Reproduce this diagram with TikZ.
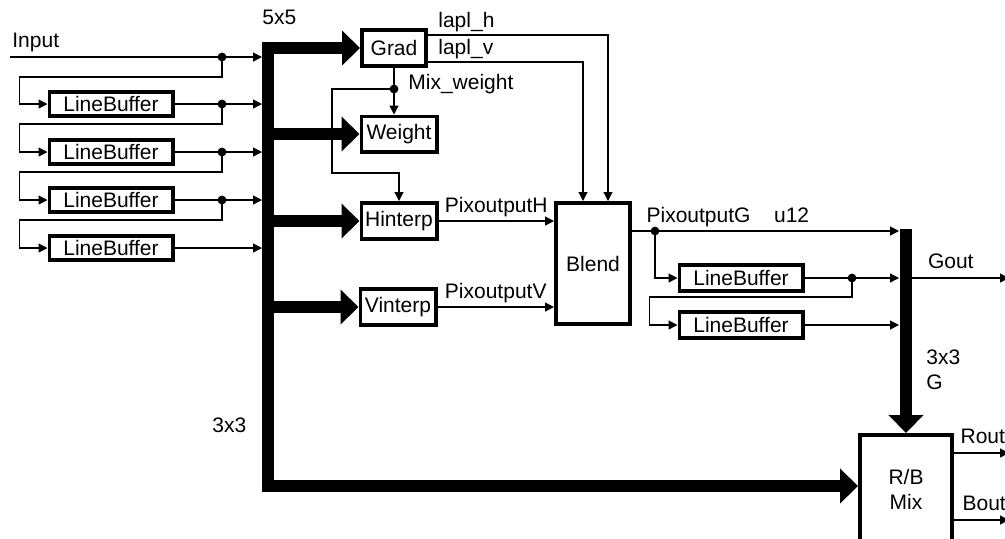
\documentclass[tikz,border=0pt]{standalone}
\usepackage{fontspec}
\setmainfont{Liberation Sans}
\usetikzlibrary{arrows.meta,positioning,calc}

\begin{document}
\begin{tikzpicture}[x=0.5pt,y=-0.5pt,font=\fontsize{10.5}{12.5}\selectfont,>={Triangle[length=4.5pt,width=4.5pt]},node distance=10pt]
  \tikzset{block/.style={draw,line width=1.8pt,fill=white,inner sep=0pt,minimum width=37.7pt,minimum height=18.2pt,align=center},
    linebuf/.style={block,minimum width=61.7pt,minimum height=12.2pt},
    wire/.style={line width=0.6pt},
    bus/.style={line width=6.4pt},
    fathead/.tip={Triangle[length=9pt,width=17pt]},
    fat/.style={-fathead},
    lbl/.style={inner sep=0pt,text depth=0pt}}
  \useasboundingbox (0,0) rectangle (1005,538);

  % processing blocks
  \node[block,minimum width=32.2pt] (grad) at (394,48) {Grad};
  \node[block,minimum height=17.7pt] (weight) at (399,134) {Weight};
  \node[block] (hinterp) at (399,221) {Hinterp};
  \node[block] (vinterp) at (398,307) {Vinterp};
  \node[block,minimum width=37.2pt,minimum height=60.7pt] (blend) at (593,263.5) {Blend};
  \node[block,minimum width=46.2pt,minimum height=54.2pt] (rbmix) at (906,489) {R/B\\Mix};

  % line buffers
  \node[linebuf] (lb1) at (111,104) {LineBuffer};
  \node[linebuf,below=of lb1] (lb2) {LineBuffer};
  \node[linebuf,below=of lb2] (lb3) {LineBuffer};
  \node[linebuf,below=of lb3] (lb4) {LineBuffer};
  \node[linebuf,minimum height=13.2pt] (lbg1) at (741,278) {LineBuffer};
  \node[linebuf,minimum height=13.2pt,below=8.5pt of lbg1] (lbg2) {LineBuffer};

  % helper coordinates
  \coordinate (in) at (10,57);
  \coordinate (busL) at (262,0);
  \coordinate (tap) at (222,0);
  \coordinate (busc) at (268,486);
  \coordinate (gbus) at (906,229);
  \coordinate (gL) at (899,0);
  \coordinate (gR) at (912,0);
  \coordinate (tapg) at (852,0);
  \coordinate (outR) at (1009,0);
  \coordinate (mw) at ([yshift=-10.5pt]grad.south);
  \coordinate (pg) at ([yshift=16.25pt]blend.east);
  \coordinate (dg) at ([xshift=11.5pt]pg);

  % input and line buffer chain
  \node[lbl,above right=4.5pt and 1pt of in] (inlbl) {Input};
  \foreach \a/\b in {in/lb1,lb1/lb2,lb2/lb3,lb3/lb4}{
    \draw[wire,->] (\a) -- (\a -| busL);
    \fill (\a -| tap) circle (2.2pt);
    \draw[wire,->] (\a -| tap) -- ++(0,20) -| ([xshift=-14pt]\b.west) -- (\b.west);
  }
  \draw[wire,->] (lb4) -- (lb4 -| busL);

  % 5x5 window bus
  \draw[bus,fathead-fathead] (grad.west) -| (busc) -- (busc -| rbmix.west);
  \foreach \n in {weight,hinterp,vinterp}
    \draw[bus,fat] (\n.west -| busc) -- (\n.west);
  \node[lbl,anchor=base west] (win5) at (262,24) {5x5};
  \node[lbl,anchor=base west] (win3) at (212,432) {3x3};

  % gradients and weight
  \draw[wire,->] ([yshift=6.5pt]grad.east) -| ([xshift=7.5pt]blend.north);
  \draw[wire,->] ([yshift=-7pt]grad.east) -| ([xshift=-5pt]blend.north);
  \node[lbl,above right=3.5pt and 5pt of {[yshift=6.5pt]grad.east}] (lh) {lapl\_h};
  \node[lbl,above right=3.5pt and 5pt of {[yshift=-7pt]grad.east}] (lv) {lapl\_v};
  \draw[wire,->] (grad.south) -- (grad.south |- weight.north);
  \fill (mw) circle (2.2pt);
  \node[lbl,anchor=base west] (mwlbl) at ([xshift=7pt]mw) {Mix\_weight};
  \draw[wire,->] (mw) -- ++(-62,0) |- ([yshift=14pt]hinterp.north) -- (hinterp.north);

  % interpolated pixels
  \draw[wire,->] (hinterp) -- (hinterp -| blend.west) node[lbl,midway,above=4pt]{PixoutputH};
  \draw[wire,->] (vinterp) -- (vinterp -| blend.west) node[lbl,midway,above=4pt]{PixoutputV};

  % G output and line buffers
  \draw[wire,->] (pg) -- (pg -| gL) node[lbl,pos=0,above right=4pt and 7pt]{PixoutputG}
    node[lbl,pos=0.53,above right=4pt and 0pt]{u12};
  \fill (dg) circle (2.2pt);
  \draw[wire,->] (dg) |- (lbg1.west);
  \draw[wire,->] (lbg1) -- (lbg1 -| gL);
  \fill (lbg1 -| tapg) circle (2.2pt);
  \draw[wire,->] (lbg1 -| tapg) -- ++(0,19) -| ([xshift=-14pt]lbg2.west) -- (lbg2.west);
  \draw[wire,->] (lbg2) -- (lbg2 -| gL);

  % 3x3 G bus and outputs
  \draw[bus,fat] (rbmix.north |- gbus) -- (rbmix.north);
  \node[lbl,align=left,anchor=north west] (win3g) at (926,349) {3x3\\G};
  \draw[wire,->] (lbg1 -| gR) -- (lbg1 -| outR) node[lbl,pos=0.4,above=4.5pt]{Gout};
  \draw[wire,->] ([yshift=18pt]rbmix.east) -- ([yshift=18pt]rbmix.east -| outR)
    node[lbl,pos=0,above right=4.5pt and 3pt]{Rout};
  \draw[wire,->] ([yshift=-15.5pt]rbmix.east) -- ([yshift=-15.5pt]rbmix.east -| outR)
    node[lbl,pos=0,above right=4.5pt and 4pt]{Bout};
\end{tikzpicture}
\end{document}
